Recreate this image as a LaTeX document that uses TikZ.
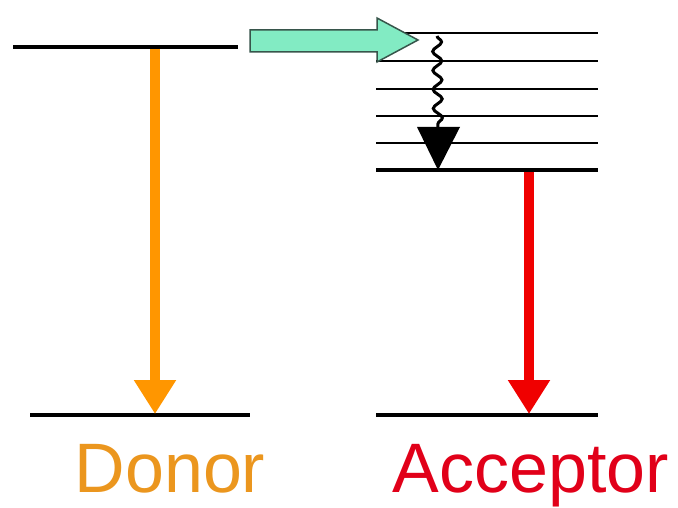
\documentclass[tikz,border=0pt]{standalone}
\usepackage{fontspec}
\setmainfont{Liberation Sans}
\usetikzlibrary{arrows.meta,decorations.pathmorphing}
\definecolor{donorarrow}{RGB}{255,150,0}
\definecolor{donortext}{RGB}{235,150,30}
\definecolor{acceptred}{RGB}{240,0,0}
\definecolor{accepttext}{RGB}{225,0,25}
\definecolor{transfer}{RGB}{130,235,195}
\definecolor{transferedge}{RGB}{55,85,75}
\tikzset{
  level/.style={line width=4bp, black},
  sublevel/.style={line width=2.2bp, black},
  emission/.style={line width=10bp, -{Triangle[width=40bp,length=34bp]}},
  label/.style={font=\fontsize{70bp}{70bp}\selectfont, anchor=base, inner sep=0pt}
}
\begin{document}
\begin{tikzpicture}[x=1bp,y=-1bp]
\useasboundingbox (0,0) rectangle (678,508);
% energy levels of the donor
\coordinate (dTL) at (13,47);  \coordinate (dTR) at (238,47);
\coordinate (dBL) at (30,415); \coordinate (dBR) at (250,415);
\draw[level] (dTL) -- (dTR);
\draw[level] (dBL) -- (dBR);
% energy levels of the acceptor: vibrational manifold and ground state
\foreach \y in {33,61,89,116,143}
  \draw[sublevel] (376,\y) -- (598,\y);
\coordinate (aSL) at (376,170); \coordinate (aSR) at (598,170);
\coordinate (aGL) at (376,415); \coordinate (aGR) at (598,415);
\draw[level] (aSL) -- (aSR);
\draw[level] (aGL) -- (aGR);
% donor emission
\coordinate (dS) at (155,49);
\coordinate (dE) at (155,414);
\draw[emission, donorarrow] (dS) -- (dE);
% acceptor emission
\coordinate (aS) at (529,172);
\coordinate (aE) at (529,414);
\draw[emission, acceptred] (aS) -- (aE);
% energy transfer block arrow
\draw[fill=transfer, draw=transferedge, line width=1.5bp, line join=miter]
  (250,30) -- (377,30) -- (377,18) -- (418,40) -- (377,62) -- (377,52) -- (250,52) -- cycle;
% vibrational relaxation
\coordinate (rS) at (437,36);
\coordinate (rM) at (438,130);
\coordinate (rE) at (438,170);
\draw[line width=3bp, decorate, decoration={snake, amplitude=4.5bp, segment length=19bp}] (rS) -- (rM);
\fill (417,127) -- (460,127) -- (rE) -- cycle;
% labels
\node[label, text=donortext] (donor) at (170,492) {Donor};
\node[label, text=accepttext] (acceptor) at (531,492) {Acceptor};
\end{tikzpicture}
\end{document}
